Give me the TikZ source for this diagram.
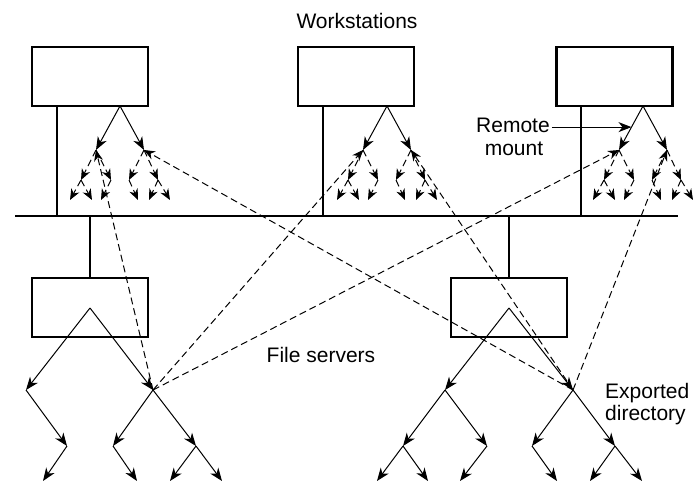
\documentclass[tikz,border=0pt]{standalone}
\usepackage{fontspec}
\setmainfont{Liberation Sans}
\usetikzlibrary{arrows.meta,calc}
\begin{document}
\begin{tikzpicture}[x=1pt,y=-1pt,
  box/.style={draw,line width=2.8pt,minimum width=116pt,minimum height=59pt,inner sep=0pt},
  wire/.style={line width=2.8pt},
  edge/.style={line width=1pt,-{Stealth[length=13pt,width=10pt,inset=4pt]}},
  sedge/.style={line width=1pt,-{Stealth[length=11pt,width=9pt,inset=3.5pt]}},
  mnt/.style={sedge,dash pattern=on 7pt off 4pt},
  lbl/.style={font=\fontsize{21}{25}\selectfont,inner sep=0pt}]
\useasboundingbox (0,0) rectangle (696,484);

% machines
\node[box] (w1) at (90,76.5) {};
\node[box] (w2) at (356,76.5) {};
\node[box] (w3) at (614.5,76.5) {};
\node[box] (s1) at (90,307.5) {};
\node[box] (s2) at (509,307.5) {};

% network
\coordinate (busL) at (15,216);
\coordinate (busR) at (678,216);
\draw[wire] (busL) -- (busR);
\coordinate (t1) at (57,216);
\coordinate (t2) at (323,216);
\coordinate (t3) at (581,216);
\draw[wire] (w1.south -| t1) -- (t1);
\draw[wire] (w2.south -| t2) -- (t2);
\draw[wire] (w3.south -| t3) -- (t3);
\draw[wire] (s1.north) -- (s1.north |- busL);
\draw[wire] (s2.north) -- (s2.north |- busL);

% server directory tree A
\coordinate (A0) at (90,308);
\coordinate (A1) at (26,390);
\coordinate (A2) at (153,390);
\coordinate (A11) at (67,446);
\coordinate (A111) at (43,481);
\coordinate (A21) at (113,446);
\coordinate (A211) at (137,481);
\coordinate (A22) at (196,446);
\coordinate (A221) at (170,481);
\coordinate (A222) at (222,481);
\draw[edge] (A0) -- (A1);
\draw[edge] (A0) -- (A2);
\draw[edge] (A1) -- (A11);
\draw[edge] (A11) -- (A111);
\draw[edge] (A2) -- (A21);
\draw[edge] (A21) -- (A211);
\draw[edge] (A2) -- (A22);
\draw[edge] (A22) -- (A221);
\draw[edge] (A22) -- (A222);

% server directory tree B
\coordinate (B0) at (509,308);
\coordinate (B1) at (445,390);
\coordinate (B2) at (573,390);
\coordinate (B11) at (403,446);
\coordinate (B111) at (377,481);
\coordinate (B112) at (428,481);
\coordinate (B12) at (487,446);
\coordinate (B121) at (460,481);
\coordinate (B21) at (532,446);
\coordinate (B211) at (557,481);
\coordinate (B22) at (615,446);
\coordinate (B221) at (590,481);
\coordinate (B222) at (642,481);
\draw[edge] (B0) -- (B1);
\draw[edge] (B0) -- (B2);
\draw[edge] (B1) -- (B11);
\draw[edge] (B11) -- (B111);
\draw[edge] (B11) -- (B112);
\draw[edge] (B1) -- (B12);
\draw[edge] (B12) -- (B121);
\draw[edge] (B2) -- (B21);
\draw[edge] (B21) -- (B211);
\draw[edge] (B2) -- (B22);
\draw[edge] (B22) -- (B221);
\draw[edge] (B22) -- (B222);

% workstation trees with mounted subtrees
\foreach \i/\x in {1/120,2/387,3/643} {
  \coordinate (r\i) at (\x,106);
  \coordinate (a\i) at ($(r\i)+(-24,44)$);
  \coordinate (b\i) at ($(r\i)+(24,44)$);
  \draw[edge] (r\i) -- (a\i);
  \draw[edge] (r\i) -- (b\i);
  % subtree mounted from server A
  \coordinate (a\i-l) at ($(a\i)+(-15,30)$);
  \coordinate (a\i-r) at ($(a\i)+(15,30)$);
  \coordinate (a\i-ll) at ($(a\i-l)+(-11,20)$);
  \coordinate (a\i-lr) at ($(a\i-l)+(11,20)$);
  \coordinate (a\i-rl) at ($(a\i-r)+(-10,20)$);
  \draw[mnt] (a\i) -- (a\i-l);
  \draw[mnt] (a\i) -- (a\i-r);
  \draw[mnt] (a\i-l) -- (a\i-ll);
  \draw[mnt] (a\i-l) -- (a\i-lr);
  \draw[mnt] (a\i-r) -- (a\i-rl);
  % subtree mounted from server B
  \coordinate (b\i-l) at ($(b\i)+(-15,30)$);
  \coordinate (b\i-r) at ($(b\i)+(14,30)$);
  \coordinate (b\i-lr) at ($(b\i-l)+(9,20)$);
  \coordinate (b\i-rl) at ($(b\i-r)+(-9,20)$);
  \coordinate (b\i-rr) at ($(b\i-r)+(12,20)$);
  \draw[mnt] (b\i) -- (b\i-l);
  \draw[mnt] (b\i) -- (b\i-r);
  \draw[mnt] (b\i-l) -- (b\i-lr);
  \draw[mnt] (b\i-r) -- (b\i-rl);
  \draw[mnt] (b\i-r) -- (b\i-rr);
  % remote mounts
  \draw[mnt] (A2) -- (a\i);
  \draw[mnt] (B2) -- (b\i);
}

% labels
\node[lbl,anchor=base] (ttl) at (357,29) {Workstations};
\node[lbl,anchor=base] (fs) at (321,362) {File servers};
\node[lbl,anchor=base west] (ex1) at (605,398) {Exported};
\node[lbl,anchor=base west] (ex2) at (605,420) {directory};
\node[lbl,anchor=base,inner xsep=2pt] (rm1) at (513,132) {Remote};
\node[lbl,anchor=base] (rm2) at (514,155) {mount};
\coordinate (rmtip) at ($(r3)!0.48!(a3)$);
\draw[edge] (rm1.east |- rmtip) -- (rmtip);
\end{tikzpicture}
\end{document}
